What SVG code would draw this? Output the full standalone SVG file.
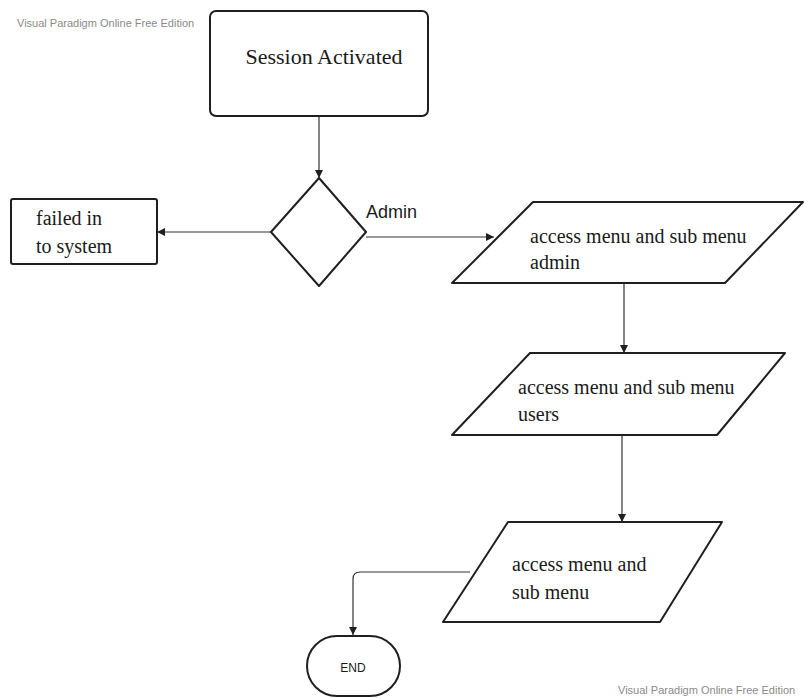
<svg xmlns="http://www.w3.org/2000/svg" width="804" height="698" viewBox="0 0 804 698">
  <style>
    .shape { fill: #ffffff; stroke: #1f1f1f; stroke-width: 2; stroke-linejoin: round; }
    .label { font-family: "Liberation Serif", "Times New Roman", serif; font-size: 20px; fill: #1a1a1a; }
    .sans { font-family: "Liberation Sans", Arial, sans-serif; fill: #1a1a1a; }
    .wm { font-family: "Liberation Sans", Arial, sans-serif; font-size: 11px; fill: #8a8a8a; }
    .conn { fill: none; stroke: #333333; stroke-width: 1.2; }
  </style>
  <defs>
    <marker id="arrow" viewBox="0 0 10 10" refX="10" refY="5" markerWidth="8" markerHeight="8" markerUnits="userSpaceOnUse" orient="auto">
      <path d="M0,0 L10,5 L0,10 z" fill="#1f1f1f"/>
    </marker>
  </defs>
  <rect width="804" height="698" fill="#ffffff"/>

  <!-- edition stamps -->
  <text class="wm" x="17" y="27">Visual Paradigm Online Free Edition</text>
  <text class="wm" x="618" y="694">Visual Paradigm Online Free Edition</text>

  <!-- connectors -->
  <g id="connectors">
    <path class="conn" d="M319,116 L319,178" marker-end="url(#arrow)"/>
    <path class="conn" d="M271,232 L157,232" marker-end="url(#arrow)"/>
    <path class="conn" d="M366,237 L494,237" marker-end="url(#arrow)"/>
    <path class="conn" d="M624,283 L624,353" marker-end="url(#arrow)"/>
    <path class="conn" d="M622,435 L622,522" marker-end="url(#arrow)"/>
    <path class="conn" d="M470,572 L360,572 Q353,572 353,579 L353,635" marker-end="url(#arrow)"/>
  </g>

  <g id="session-activated">
    <rect class="shape" x="210" y="11" width="218" height="105" rx="6"/>
    <text class="label" x="324" y="64" text-anchor="middle" style="font-size:22px">Session Activated</text>
  </g>

  <g id="decision">
    <polygon class="shape" points="319,178 366,232 319,286 271,232"/>
    <text class="sans" x="366" y="218" font-size="18">Admin</text>
  </g>

  <g id="failed">
    <rect class="shape" x="11" y="199" width="146" height="65" rx="2"/>
    <text class="label" x="36" y="225">failed in</text>
    <text class="label" x="36" y="253">to system</text>
  </g>

  <g id="menu-admin">
    <polygon class="shape" points="533,202 803,202 725,283 452,283"/>
    <text class="label" x="530" y="243">access menu and sub menu</text>
    <text class="label" x="530" y="269">admin</text>
  </g>

  <g id="menu-users">
    <polygon class="shape" points="530,353 785,353 717,435 452,435"/>
    <text class="label" x="518" y="394">access menu and sub menu</text>
    <text class="label" x="518" y="421">users</text>
  </g>

  <g id="menu">
    <polygon class="shape" points="508,522 722,522 660,622 443,622"/>
    <text class="label" x="512" y="571">access menu and</text>
    <text class="label" x="512" y="599">sub menu</text>
  </g>

  <g id="end">
    <rect class="shape" x="307" y="636" width="93" height="60" rx="30" ry="30"/>
    <text class="sans" x="353" y="672" font-size="12" text-anchor="middle">END</text>
  </g>
</svg>
